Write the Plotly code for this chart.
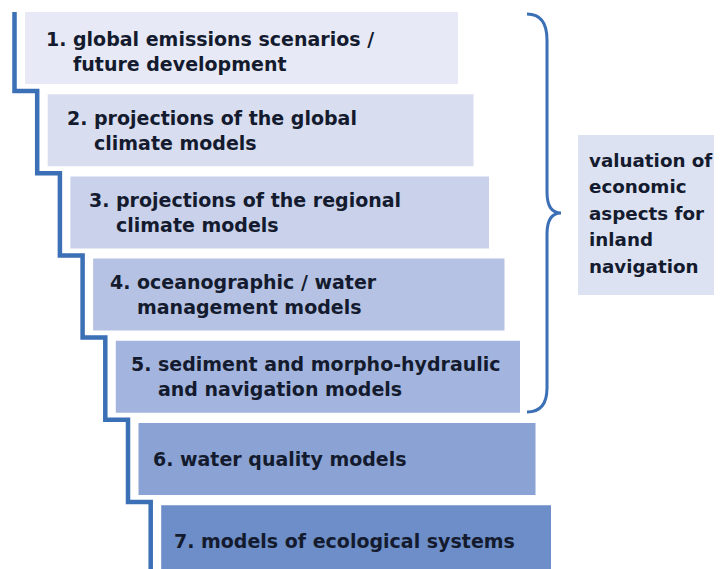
import plotly.graph_objects as go

# ---- content ----
step_numbers = ["1.", "2.", "3.", "4.", "5.", "6.", "7."]
step_lines = [
    ["global emissions scenarios /", "future development"],
    ["projections of the global", "climate models"],
    ["projections of the regional", "climate models"],
    ["oceanographic / water", "management models"],
    ["sediment and morpho-hydraulic", "and navigation models"],
    ["water quality models"],
    ["models of ecological systems"],
]
step_colors = ["#e7e9f6", "#d9ddf0", "#c9d1eb", "#b5c2e3", "#a3b5de", "#8aa3d4", "#6d8ec8"]
side_lines = ["valuation of", "economic", "aspects for", "inland", "navigation"]

W, H = 722, 569
OFF = 8  # page body margin
LINE_COLOR = "#3b6fb6"
TEXT_COLOR = "#141b2e"
FONT = "DejaVu Sans"
FS = 19

fig = go.Figure()
shapes = []
annotations = []


def label(x, y, txt, size=FS):
    annotations.append(dict(x=x, y=y, xref="x", yref="y", text="<b>" + txt + "</b>",
                            showarrow=False, xanchor="left", yanchor="middle",
                            font=dict(family=FONT, size=size, color=TEXT_COLOR)))


n = len(step_numbers)
box_h = 72
stair_pts = []
for i in range(n):
    left = 25 + 22.7 * i
    top = 12 + 82.2 * i
    right = 458 + 15.5 * i
    shapes.append(dict(type="rect", xref="x", yref="y", x0=left, x1=right,
                       y0=top, y1=top + box_h, fillcolor=step_colors[i],
                       line=dict(width=0), layer="below"))
    cy = top + box_h / 2 + (3 if i == 0 else 0)
    nx = 44 + 21.3 * i
    lines = step_lines[i]
    if len(lines) == 2:
        ys = [cy - 12.5, cy + 12.5]
    else:
        ys = [cy]
    label(nx, ys[0], step_numbers[i])
    for s, yy in zip(lines, ys):
        label(nx + 27, yy, s)
    lx = left - 10.5
    if i == 0:
        stair_pts.append((lx, 12))
    if i < n - 1:
        y_turn = top + 79
        stair_pts.append((lx, y_turn))
        stair_pts.append((25 + 22.7 * (i + 1) - 10.5, y_turn))
    else:
        stair_pts.append((lx, H + 20))

path = "M " + " L ".join(f"{x:.1f},{y:.1f}" for x, y in stair_pts)
shapes.append(dict(type="path", xref="x", yref="y", path=path,
                   line=dict(color=LINE_COLOR, width=4.5)))

# brace
brace = ("M 527,14 Q 547,14 547,40 L 547,192 Q 547,213 561,213 "
         "Q 547,213 547,234 L 547,388 Q 547,412 527,412")
shapes.append(dict(type="path", xref="x", yref="y", path=brace,
                   line=dict(color=LINE_COLOR, width=3)))

# side box
shapes.append(dict(type="rect", xref="x", yref="y", x0=578, x1=740, y0=135, y1=295,
                   fillcolor="#dde2f2", line=dict(width=0), layer="below"))
for k, s in enumerate(side_lines):
    label(587, 160 + 26.5 * k, s, size=18.3)

fig.add_trace(go.Scatter(x=[OFF, W + OFF], y=[OFF, H + OFF], mode="markers",
                         marker=dict(opacity=0), hoverinfo="skip", showlegend=False))

fig.update_layout(
    width=W, height=H,
    margin=dict(l=0, r=0, t=0, b=0),
    paper_bgcolor="white", plot_bgcolor="white",
    xaxis=dict(range=[OFF, W + OFF], visible=False, fixedrange=True),
    yaxis=dict(range=[H + OFF, OFF], visible=False, fixedrange=True),
    shapes=shapes, annotations=annotations, showlegend=False,
)
fig.write_html("out.html")
